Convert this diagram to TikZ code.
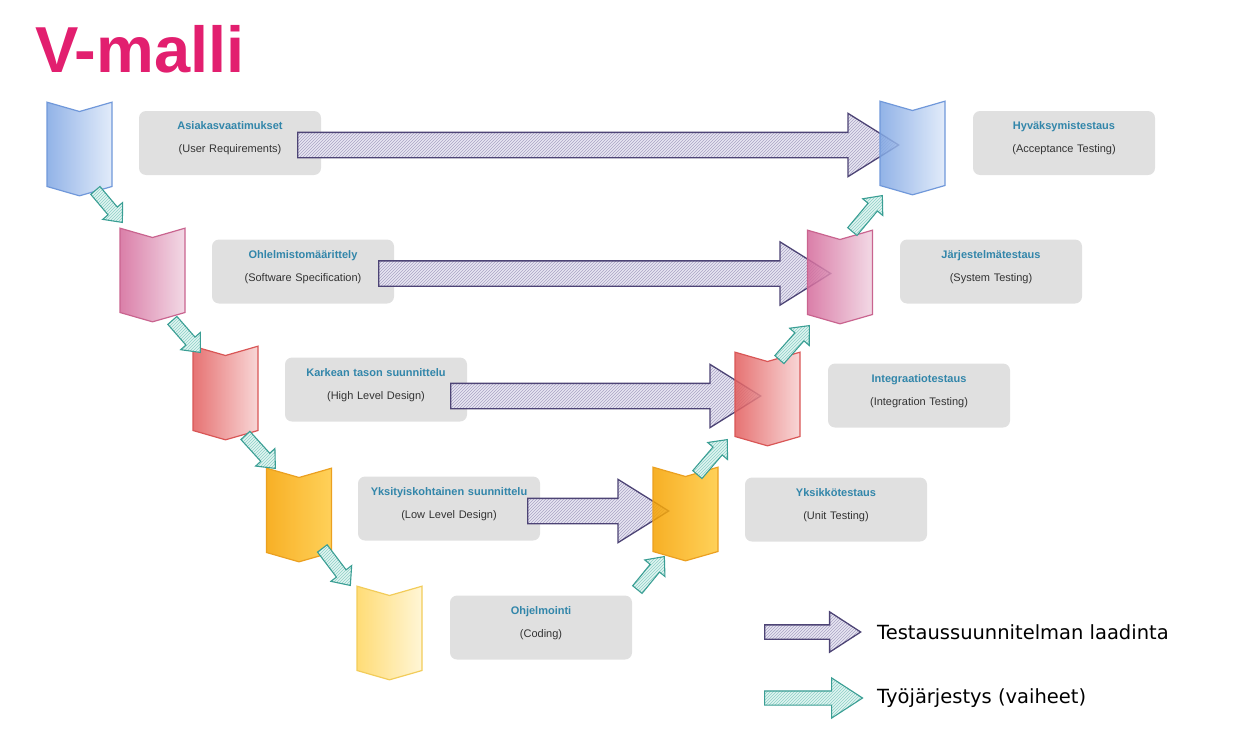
\documentclass[tikz,border=0pt]{standalone}
\usepackage{fontspec}
\setmainfont{Liberation Sans}
\newfontfamily\legendfont{DejaVu Sans}
\usetikzlibrary{positioning, calc, shapes.symbols, shapes.arrows, patterns}
\definecolor{titlepink}{HTML}{E21F6F}
\definecolor{headblue}{HTML}{3286AA}
\definecolor{boxgray}{HTML}{E0E0E0}
\definecolor{subgray}{HTML}{333333}
\definecolor{lavfill}{HTML}{E8E6F2}
\definecolor{lavline}{HTML}{A9A3C4}
\definecolor{lavedge}{HTML}{4D4475}
\definecolor{tealfill}{HTML}{E0F4F1}
\definecolor{tealline}{HTML}{8ED0C6}
\definecolor{tealedge}{HTML}{3A9E94}
\definecolor{blueL}{HTML}{7FA6E3}\definecolor{blueR}{HTML}{DDE8F9}\definecolor{blueE}{HTML}{7098DA}
\definecolor{pinkL}{HTML}{D4699A}\definecolor{pinkR}{HTML}{F0D3E1}\definecolor{pinkE}{HTML}{C9648F}
\definecolor{redL}{HTML}{E25B5B}\definecolor{redR}{HTML}{F7CFCF}\definecolor{redE}{HTML}{D95656}
\definecolor{oraL}{HTML}{F6A200}\definecolor{oraR}{HTML}{FFC93C}\definecolor{oraE}{HTML}{EBA020}
\definecolor{yelL}{HTML}{FFD65E}\definecolor{yelR}{HTML}{FFF4CF}\definecolor{yelE}{HTML}{F2CC5A}
\tikzset{stage/.style={signal, signal to=south, signal from=north, signal pointer angle=148,
    minimum width=65pt, minimum height=75pt, inner sep=0pt, line width=1.2pt, fill opacity=0.85},
  info/.style={rounded corners=7pt, fill=boxgray, text width=182pt, minimum height=64pt,
    align=center, inner sep=0pt, text=subgray, font=\fontsize{11}{12}\selectfont},
  block/.style={to path={let \p1=(\tikztostart), \p2=(\tikztotarget),
    \n1={veclen(\x2-\x1,\y2-\y1)} in (\tikztostart) -- (\tikztotarget)
    node[pos=0, sloped, anchor=tail, single arrow, inner sep=0pt, minimum height=\n1, #1] {}}},
  plan arrow/.style={preaction={fill=lavfill}, pattern=north east lines, pattern color=lavline,
    draw=lavedge, line width=1.3pt, inner ysep=12pt, single arrow head extend=19pt,
    single arrow tip angle=64},
  work arrow/.style={preaction={fill=tealfill}, pattern=north east lines, pattern color=tealline,
    draw=tealedge, line width=1.1pt, inner ysep=5.5pt, single arrow head extend=7pt,
    single arrow tip angle=82},
}
\newcommand{\hd}[2]{{\bfseries\color{headblue}#1}\\[11pt]#2\\[-1pt]\mbox{}}

\begin{document}
\begin{tikzpicture}[x=1pt, y=-1pt]
        \useasboundingbox (0,0) rectangle (1249,736);
        % Title
        \node[anchor=base west, inner sep=0pt, text=titlepink, font=\fontsize{65}{70}\selectfont\bfseries] (title) at (35,72) {V-malli};
        % Info boxes
        \node[info] (b1) at (230,143) {\hd{Asiakasvaatimukset}{(User Requirements)}};
        \node[info] (b2) at (303,271.5) {\hd{Ohlelmistomäärittely}{(Software Specification)}};
        \node[info] (b3) at (376,389.5) {\hd{Karkean tason suunnittelu}{(High Level Design)}};
        \node[info] (b4) at (449,508.5) {\hd{Yksityiskohtainen suunnittelu}{(Low Level Design)}};
        \node[info] (b5) at (541,627.5) {\hd{Ohjelmointi}{(Coding)}};
        \node[info] (b6) at (836,509.5) {\hd{Yksikkötestaus}{(Unit Testing)}};
        \node[info] (b7) at (919,395.5) {\hd{Integraatiotestaus}{(Integration Testing)}};
        \node[info] (b8) at (991,271.5) {\hd{Järjestelmätestaus}{(System Testing)}};
        \node[info] (b9) at (1064,143) {\hd{Hyväksymistestaus}{(Acceptance Testing)}};
        % Test plan arrows
        \coordinate (p1s) at (297,145);  \coordinate (p1e) at (898,145);
        \coordinate (p2s) at (378,273.5);\coordinate (p2e) at (830,273.5);
        \coordinate (p3s) at (450,396);  \coordinate (p3e) at (760,396);
        \coordinate (p4s) at (527,511);  \coordinate (p4e) at (668,511);
        \path (p1s) to[block=plan arrow] (p1e)
              (p2s) to[block=plan arrow] (p2e)
              (p3s) to[block=plan arrow] (p3e)
              (p4s) to[block=plan arrow] (p4e);
        % Stages
        \node[stage, draw=blueE, left color=blueL, right color=blueR] (c1) at (79.5,149) {};
        \node[stage, draw=pinkE, left color=pinkL, right color=pinkR] (c2) at (152.5,275) {};
        \node[stage, draw=redE, left color=redL, right color=redR] (c3) at (225.5,393) {};
        \node[stage, draw=oraE, left color=oraL, right color=oraR] (c4) at (299,515) {};
        \node[stage, draw=yelE, left color=yelL, right color=yelR] (c5) at (389.5,633) {};
        \node[stage, draw=oraE, left color=oraL, right color=oraR] (c6) at (685.5,514) {};
        \node[stage, draw=redE, left color=redL, right color=redR] (c7) at (767.5,399) {};
        \node[stage, draw=pinkE, left color=pinkL, right color=pinkR] (c8) at (840,277) {};
        \node[stage, draw=blueE, left color=blueL, right color=blueR] (c9) at (912.5,148) {};
        % Work order arrows
        \coordinate (w1s) at (95,190);  \coordinate (w1e) at (122,222);
        \coordinate (w2s) at (172,320); \coordinate (w2e) at (200,352);
        \coordinate (w3s) at (245,435); \coordinate (w3e) at (275,468);
        \coordinate (w4s) at (322,548); \coordinate (w4e) at (350,585);
        \coordinate (w5s) at (637,590); \coordinate (w5e) at (664,557);
        \coordinate (w6s) at (697,475); \coordinate (w6e) at (727,440);
        \coordinate (w7s) at (779,360); \coordinate (w7e) at (809,326);
        \coordinate (w8s) at (852,232); \coordinate (w8e) at (882,196);
        \foreach \i in {1,...,8}
            \path (w\i s) to[block=work arrow] (w\i e);
        % Legend
        \coordinate (l1s) at (764,632); \coordinate (l1e) at (860,632);
        \coordinate (l2s) at (764,698); \coordinate (l2e) at (862,698);
        \path (l1s) to[block={plan arrow, inner ysep=6.5pt, single arrow head extend=13pt, single arrow tip angle=66}] (l1e)
              (l2s) to[block={work arrow, inner ysep=6.5pt, single arrow head extend=13pt, single arrow tip angle=66}] (l2e);
        \node[right=17pt of l1e, inner sep=0pt, font=\legendfont\fontsize{19.5}{22}\selectfont] (leg1) {Testaussuunnitelman laadinta};
        \node[right=15pt of l2e, inner sep=0pt, font=\legendfont\fontsize{19.5}{22}\selectfont] (leg2) {Työjärjestys (vaiheet)};
\end{tikzpicture}
\end{document}
